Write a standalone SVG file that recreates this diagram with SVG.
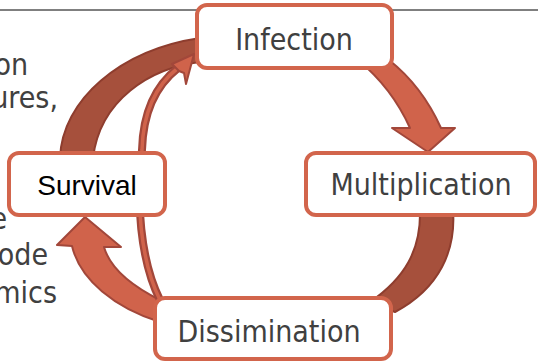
<svg xmlns="http://www.w3.org/2000/svg" width="538" height="363" viewBox="0 0 538 363">
<style>
.box{fill:#fff;stroke:#d2654c;stroke-width:4}
.lbl{font-family:'DejaVu Sans Condensed','DejaVu Sans',sans-serif;font-stretch:condensed;font-size:30px;fill:#404040;text-anchor:middle}
.side{font-family:'DejaVu Sans Condensed','DejaVu Sans',sans-serif;font-stretch:condensed;font-size:30px;fill:#404040;text-anchor:end}
.surv{font-family:'Liberation Sans',Arial,sans-serif;font-size:28px;fill:#000;text-anchor:middle}
.light{fill:#d0634b;stroke:#a2473a;stroke-width:2;stroke-linejoin:round}
.dark{fill:#a6503c;stroke:#8e3d2e;stroke-width:2;stroke-linejoin:round}
</style>
<line x1="0" y1="10" x2="538" y2="10" stroke="#000" stroke-width="1"/>
<g id="side-text">
<text class="side" x="28" y="75">on</text>
<text class="side" x="58" y="108">ures,</text>
<text class="side" x="7" y="229">e</text>
<text class="side" x="48" y="265">ode</text>
<text class="side" x="57" y="303">mics</text>
</g>
<g id="connectors">
<path class="dark" d="M60,158 C62,100 120,50 200,38 L200,62 C150,68 100,100 93,158 Z"/>
<path class="light" d="M358,60 Q392,88 410,128 L392,128 L428,152 L455,128 L441,128 Q422,86 389,60 Z"/>
<path class="dark" d="M453,210 C456,250 440,288 395,312 L370,302 C405,278 421,250 420,210 Z"/>
<path class="light" d="M104,247 L121,247 L85,217 L57,245 L72,246 C80,280 115,308 160,322 L160,300 C130,285 110,268 104,247 Z"/>
<path d="M160,300 C140,260 136,200 142,150 C143,112 155,86 178,68" fill="none" stroke="#a2473a" stroke-width="8"/>
<path d="M160,300 C140,260 136,200 142,150 C143,112 155,86 178,68" fill="none" stroke="#d0634b" stroke-width="3.5"/>
<path class="light" stroke-width="1.5" d="M172,64 L194,54 L186,84 L184,73 L179,71 Z"/>
</g>
<g id="infection"><rect class="box" x="197" y="5" width="195" height="63" rx="10"/><text class="lbl" x="294" y="50">Infection</text></g>
<g id="multiplication"><rect class="box" x="306" y="153" width="229" height="62" rx="10"/><text class="lbl" x="421" y="195">Multiplication</text></g>
<g id="dissimination"><rect class="box" x="155" y="298" width="236" height="61" rx="10"/><text class="lbl" x="269" y="342">Dissimination</text></g>
<g id="survival"><rect class="box" x="9" y="153" width="156" height="62" rx="10"/><text class="surv" x="87" y="195">Survival</text></g>
</svg>
